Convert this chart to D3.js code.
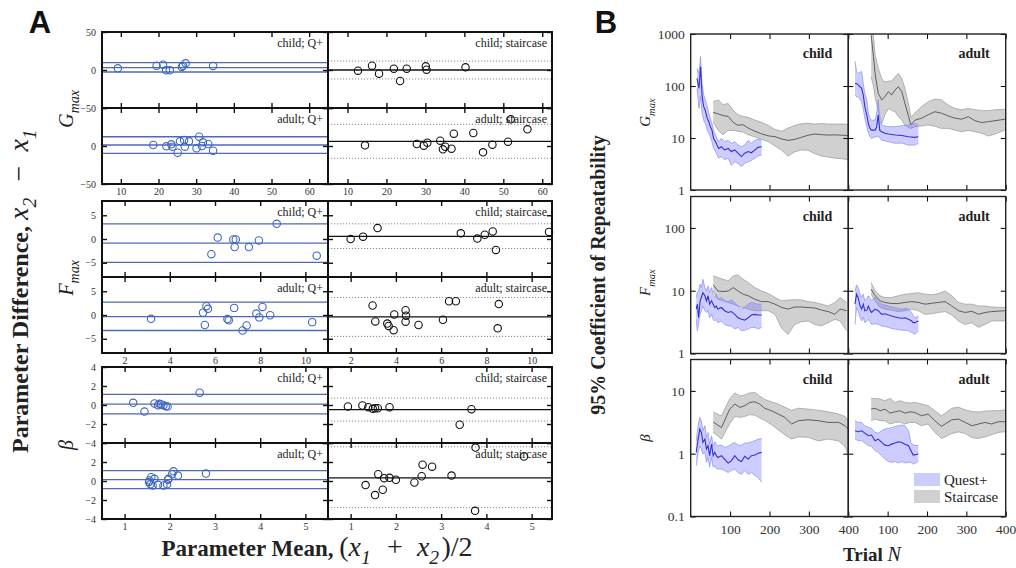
<!DOCTYPE html>
<html lang="en">
<head>
<meta charset="UTF-8">
<title>Repeatability</title>
<script src="https://d3js.org/d3.v7.min.js"></script>
<style>
  body { margin: 0; background: #fff; }
  svg text { font-family: "Liberation Serif", "DejaVu Serif", serif; }
</style>
</head>
<body>
<div id="chart"></div>
<script>
    // ---------- panel A: Bland-Altman points [mean, difference] ----------
    let gChildQ = [[9.2, 2.2], [19.5, 5.7], [21.2, 7], [22, -0.4], [23, -0.4], [26.2, 4], [26.5, 5.5], [27.2, 8.8], [34.5, 5.3]];
    let gAdultQ = [[18.6, 1.3], [22.1, -0.4], [23.4, 2.2], [23.7, -0.9], [25.1, -8.8], [25.7, 6.1], [26.8, 7.9], [27, -0.9], [28.1, 6.1], [30.1, -3], [30.8, 12.3], [31.5, 0], [31.8, 4.8], [33.2, 2.6], [34.5, -6.1]];
    let gChildS = [[12.7, -0.9], [16.3, 5.7], [18.1, -4.8], [21.9, 1.8], [23.5, -14.5], [25.2, 1.8], [30.1, 4.8], [30.3, 0.4], [40.3, 3.5]];
    let gAdultS = [[14.5, 0.9], [27.8, 2.6], [29.6, 0.4], [30.5, 4.4], [33.8, 7], [34.5, -4.4], [35.1, -0.9], [36.7, -3.5], [37.3, 16.2], [42.3, 17.1], [44.8, -8.3], [47.2, 1.8], [51.2, 5.7], [51.9, 35.1], [56.2, 21.9]];
    let fChildQ = [[5.84, -3.2], [6.12, 0.3], [6.81, -0.1], [6.92, -0.1], [6.87, -1.7], [7.5, -1.7], [7.94, -0.3], [8.73, 3.2], [10.5, -3.5]];
    let fAdultQ = [[3.17, -0.8], [5.47, 0.5], [5.62, 1.85], [5.69, 1.3], [5.55, -2.1], [6.55, -0.85], [6.61, -1.1], [6.85, 1.5], [7.22, -3.26], [7.4, -2.2], [7.83, 0.3], [7.96, -0.5], [8.1, 1.7], [8.44, -0.05], [10.3, -1.5]];
    let fChildS = [[2.0, 0], [2.55, 0.5], [3.19, 2.3], [6.87, 1.2], [7.6, 0.1], [7.93, 0.9], [8.28, 1.6], [8.42, -2.3], [10.77, 1.5]];
    let fAdultS = [[2.97, 2.0], [3.09, -1.35], [3.62, -1.8], [3.68, -2.3], [3.9, -3.2], [3.93, 0.1], [4.43, 1.0], [4.45, -0.15], [4.43, -1.4], [5.0, -2.1], [6.08, -1.0], [6.35, 2.9], [6.65, 2.9], [8.55, 2.3], [8.5, -2.8]];
    let bChildQ = [[1.19, 0.23], [1.44, -0.69], [1.66, 0.16], [1.74, -0.02], [1.77, 0.12], [1.81, 0.05], [1.86, -0.02], [1.91, -0.13], [1.95, -0.16], [2.66, 1.3]];
    let bAdultQ = [[1.54, -0.1], [1.55, 0.05], [1.59, 0.4], [1.57, -0.35], [1.62, -0.47], [1.66, 0.23], [1.74, -0.4], [1.86, -0.47], [1.94, -0.35], [1.96, 0.13], [1.97, 0.23], [2.05, 0.71], [2.08, 1.02], [2.18, 0.57], [2.8, 0.78]];
    let bChildS = [[0.94, -0.16], [1.26, -0.05], [1.39, -0.23], [1.49, -0.4], [1.54, -0.34], [1.6, -0.34], [1.86, -0.23], [3.67, -0.44], [3.41, -2.08]];
    let bAdultS = [[1.33, -0.43], [1.54, -1.48], [1.71, -0.92], [1.61, 0.71], [1.74, 0.3], [1.86, 0.33], [2.0, 0.13], [2.41, -0.16], [2.57, 0.5], [2.59, 1.72], [2.8, 1.51], [3.23, 0.57], [3.76, 3.52], [3.75, -3.14], [4.83, 2.58]];

    // bias and limits of agreement: [mean, lower, upper]
    let gChildQLim = [3.0, -2.6, 9.6], gAdultQLim = [1.3, -9.6, 12.2];
    let gChildSLim = [0, -11.8, 11.8], gAdultSLim = [6.1, -16.2, 28.5];
    let fChildQLim = [-0.85, -4.9, 3.2], fAdultQLim = [-0.35, -3.26, 2.7];
    let fChildSLim = [0.57, -2.0, 3.2], fAdultSLim = [-0.4, -4.5, 3.7];
    let bChildQLim = [0.09, -0.94, 1.12], bAdultQLim = [0.15, -0.8, 1.1];
    let bChildSLim = [-0.48, -1.69, 0.73], bAdultSLim = [0.33, -2.8, 3.6];

    let gTicks = [10, 20, 30, 40, 50, 60], fTicks = [2, 4, 6, 8, 10], bTicks = [1, 2, 3, 4, 5];

    // ---------- panel B: repeatability vs trial ----------
    let gcqT = [16, 21, 25, 29, 33, 37, 42, 46, 50, 54, 58, 63, 67, 71, 78, 86, 95, 103, 112, 120, 129, 137, 146, 154, 163, 171, 180];
    let gcqM = [140, 90, 235, 62, 40, 34, 24, 20.6, 16.5, 14.2, 9.8, 8.5, 7.3, 6.3, 6.8, 5.9, 6.3, 5.5, 5.9, 5.1, 4.4, 5.1, 5.5, 5.2, 5.9, 6.6, 6.8];
    let gcqH = [219, 175, 368, 112, 67, 54, 40, 30, 24, 19, 14, 11.4, 9.8, 8.5, 9.8, 8.5, 9.1, 7.9, 8.5, 7.3, 6.8, 7.3, 9.1, 7.9, 9.1, 9.4, 9.1];
    let gcqL = [90, 37, 62, 30, 22, 19, 14, 12.3, 10.6, 8.5, 6.3, 5.5, 4.7, 4.1, 4.4, 3.8, 4.1, 3.0, 3.5, 3.25, 2.8, 3.25, 3.5, 3.7, 4.1, 4.5, 4.7];

    let gcsT = [57, 70, 82, 95, 108, 120, 133, 146, 163, 180, 197, 214, 231, 247, 264, 281, 298, 315, 332, 349, 366, 383, 400];
    let gcsM = [31, 29, 27, 26, 20, 17.5, 18, 15.5, 13.5, 12, 11, 10.6, 9.6, 9.0, 9.4, 10.3, 11.3, 11.9, 11.6, 11.4, 11.5, 11.3, 11.2];
    let gcsH = [50, 54, 44, 46, 34, 28, 26, 25, 22, 20, 17.5, 14.5, 13.5, 15.5, 17.5, 18.8, 19.2, 18.5, 19, 18.5, 18.5, 18.6, 18.3];
    let gcsL = [20, 14, 11.5, 14, 14, 13.5, 13, 11.5, 10.5, 9.5, 8.5, 7.0, 5.8, 4.5, 5.4, 5.9, 5.8, 5.0, 4.5, 4.3, 4.1, 4.0, 3.8];

    let gaqT = [17, 21, 25, 34, 38, 42, 47, 51, 55, 59, 68, 72, 76, 80, 85, 93, 102, 119, 136, 153, 169, 178];
    let gaqM = [112, 112, 105, 90, 67, 40, 28, 19, 15.3, 14.2, 14.2, 16, 28, 14, 13.2, 12.3, 11.9, 11.4, 11.2, 10.6, 10.3, 10.6];
    let gaqH = [300, 190, 175, 190, 112, 72, 54, 30, 24, 22, 22, 30, 54, 22, 17.8, 17, 16.5, 16.5, 17.2, 17.8, 19, 18];
    let gaqL = [67, 62, 62, 50, 37, 24, 16.5, 12.3, 10.6, 9.8, 10.6, 10.5, 11, 10, 9.1, 8.8, 8.5, 7.9, 8.0, 7.3, 7.3, 7.9];

    let gasT = [58, 64, 68, 76, 85, 93, 102, 110, 119, 127, 136, 144, 153, 159, 169, 186, 203, 220, 237, 254, 271, 288, 305, 322, 339, 356, 373, 398];
    let gasM = [950, 368, 175, 72, 54, 62, 78, 67, 84, 97, 78, 46, 26, 17.8, 22, 24, 28, 32, 30, 26.5, 24, 23, 25.7, 21.5, 19.8, 20.6, 21.5, 23];
    let gasH = [2000, 900, 400, 220, 140, 120, 124, 125, 150, 175, 140, 90, 45, 25, 30, 40, 50, 56, 54, 43, 37, 35, 37, 35, 33.6, 33.6, 35, 35.5];
    let gasL = [150, 100, 62, 34, 19, 28, 37, 34, 32, 26, 22, 17.8, 16, 15.3, 16.5, 17, 17.8, 16.8, 15.3, 15.3, 14.2, 13.2, 14, 13.2, 12.3, 10.9, 11.9, 14.2];

    let fcqT = [14, 17, 20, 24, 27, 31, 36, 40, 44, 48, 53, 57, 61, 65, 69, 78, 86, 95, 103, 112, 120, 129, 137, 146, 154, 163, 171, 180];
    let fcqM = [5.1, 6.1, 3.7, 6.9, 7.8, 9.3, 8.3, 6.9, 8.3, 6.1, 6.9, 6.1, 5.4, 5.7, 5.1, 5.4, 4.8, 4.5, 4.65, 4.2, 3.7, 3.5, 3.4, 3.7, 4.1, 4.2, 4.1, 4.1];
    let fcqH = [7.8, 9.5, 10, 12.7, 11.2, 15.2, 11.2, 9.9, 11.9, 9.3, 11.2, 8.8, 7.8, 8.8, 7.3, 7.8, 6.9, 6.7, 7.1, 6.5, 5.7, 5.1, 5.5, 6.1, 6.5, 6.3, 6.1, 6.1];
    let fcqL = [3.5, 2.3, 3.1, 4.2, 4.8, 5.7, 4.8, 4.5, 4.8, 3.7, 4.2, 3.5, 3.3, 3.5, 3.1, 3.3, 2.9, 2.75, 2.75, 2.45, 2.6, 2.3, 2.35, 2.45, 2.6, 2.6, 2.45, 2.6];

    let fcsT = [57, 69, 82, 95, 108, 120, 133, 146, 163, 180, 197, 214, 231, 247, 264, 281, 298, 315, 332, 349, 366, 379, 396];
    let fcsM = [12.4, 9.9, 9.7, 9.9, 11.2, 9.9, 8.8, 8.3, 7.3, 6.7, 6.7, 6.1, 5.4, 5.1, 5.5, 5.5, 5.4, 5.3, 4.9, 4.65, 4.2, 5.1, 4.8];
    let fcsH = [17.2, 16.2, 15.2, 14.3, 17.2, 17.8, 15.2, 13.5, 11.2, 9.9, 9.0, 7.8, 6.9, 7.1, 7.2, 7.1, 6.7, 6.5, 6.1, 5.7, 6.5, 7.8, 6.5];
    let fcsL = [9.9, 7.3, 6.9, 6.5, 6.1, 5.7, 5.4, 5.1, 4.8, 4.8, 4.8, 4.2, 2.5, 2.0, 2.9, 3.2, 3.3, 2.9, 2.75, 3.1, 3.5, 3.3, 2.3];

    let faqT = [17, 21, 25, 30, 34, 38, 42, 47, 51, 55, 59, 68, 76, 85, 93, 102, 110, 119, 127, 136, 144, 153, 161, 165, 169, 178];
    let faqM = [6.1, 8.8, 7.8, 5.7, 5.1, 6.1, 4.8, 4.9, 5.7, 4.9, 4.5, 5.1, 4.8, 4.2, 4.3, 4.1, 3.95, 3.8, 3.7, 3.65, 3.7, 3.5, 3.3, 3.1, 3.1, 3.3];
    let faqH = [9.9, 12.4, 11.2, 8.8, 7.8, 8.8, 6.9, 7.5, 8.3, 7.5, 7.1, 7.8, 6.9, 6.1, 5.9, 5.7, 5.5, 5.4, 5.2, 5.1, 5.3, 5.1, 4.5, 4.0, 3.7, 3.95];
    let faqL = [2.9, 5.4, 4.8, 3.7, 3.3, 3.8, 3.1, 3.3, 3.5, 3.2, 2.9, 3.0, 2.9, 2.75, 2.7, 2.6, 2.5, 2.45, 2.4, 2.35, 2.35, 2.3, 2.15, 2.1, 2.0, 2.3];

    let fasT = [58, 68, 81, 93, 110, 127, 144, 161, 178, 195, 212, 229, 246, 263, 280, 297, 314, 331, 347, 364, 398];
    let fasM = [10.6, 8.3, 6.9, 6.5, 6.25, 6.25, 6.5, 6.7, 6.5, 6.1, 6.3, 6.5, 6.7, 5.7, 4.8, 4.5, 4.7, 4.2, 4.5, 4.65, 4.8];
    let fasH = [13.5, 9.9, 8.3, 7.8, 7.8, 8.3, 8.8, 9.0, 9.3, 8.8, 8.6, 9.0, 9.9, 8.3, 6.5, 6.1, 6.1, 5.7, 5.7, 5.5, 5.4];
    let fasL = [8.8, 6.9, 5.4, 5.1, 4.9, 4.65, 4.8, 5.1, 4.8, 4.2, 4.3, 4.5, 4.65, 4.1, 3.3, 2.9, 3.1, 2.6, 2.9, 3.3, 3.3];

    let bcqT = [14, 19, 23, 27, 31, 36, 40, 44, 48, 53, 57, 61, 65, 69, 78, 86, 95, 103, 112, 120, 129, 137, 146, 154, 163, 171, 180];
    let bcqM = [1.05, 1.71, 2.47, 2.18, 1.51, 1.71, 1.19, 1.34, 0.93, 1.42, 0.93, 1.05, 0.93, 0.87, 0.93, 0.82, 0.71, 0.77, 0.93, 0.8, 0.75, 0.91, 0.82, 0.93, 0.95, 1.02, 1.05];
    let bcqH = [1.61, 2.79, 3.78, 3.35, 2.32, 2.79, 1.82, 2.18, 1.42, 1.93, 1.34, 1.55, 1.42, 1.34, 1.37, 1.26, 1.31, 1.42, 1.51, 1.37, 1.37, 1.48, 1.48, 1.55, 1.61, 1.71, 1.75];
    let bcqL = [0.64, 1.05, 1.34, 1.19, 0.99, 1.05, 0.73, 0.87, 0.61, 0.87, 0.61, 0.64, 0.58, 0.57, 0.57, 0.54, 0.5, 0.54, 0.57, 0.5, 0.47, 0.54, 0.47, 0.5, 0.45, 0.42, 0.35];

    let bcsT = [57, 78, 99, 112, 125, 137, 150, 163, 175, 188, 205, 222, 239, 256, 273, 298, 324, 349, 375, 392, 400];
    let bcsM = [3.2, 2.6, 5.13, 6.17, 5.46, 5.8, 6.55, 6.7, 6.17, 5.27, 4.83, 4.28, 3.78, 2.97, 3.35, 3.47, 3.35, 3.15, 3.15, 2.79, 2.47];
    let bcsH = [4.6, 4.0, 7.5, 9.3, 8.3, 8.6, 9.3, 9.4, 8.3, 7.3, 6.7, 6.2, 5.5, 4.9, 5.3, 5.13, 4.9, 4.65, 4.3, 3.9, 3.35];
    let bcsL = [2.2, 1.71, 3.0, 3.9, 3.8, 3.9, 4.2, 4.1, 3.7, 3.4, 2.9, 2.4, 2.0, 1.71, 1.85, 1.82, 1.6, 1.71, 1.6, 1.3, 0.93];

    let baqT = [17, 25, 34, 42, 51, 59, 68, 76, 85, 93, 102, 110, 119, 127, 136, 144, 153, 159, 165, 178];
    let baqM = [2.32, 2.24, 2.32, 2.13, 1.93, 1.98, 1.61, 1.71, 1.51, 1.37, 1.34, 1.42, 1.48, 1.55, 1.51, 1.42, 1.34, 1.12, 0.95, 0.99];
    let baqH = [3.35, 3.15, 3.15, 2.79, 2.62, 2.53, 2.18, 2.13, 2.32, 2.47, 2.53, 2.6, 2.72, 2.79, 2.86, 2.79, 2.32, 1.51, 1.37, 1.34];
    let baqL = [1.71, 1.61, 1.61, 1.48, 1.34, 1.31, 1.12, 1.05, 0.93, 0.82, 0.75, 0.73, 0.75, 0.71, 0.75, 0.71, 0.73, 0.73, 0.68, 0.75];

    let basT = [58, 68, 81, 93, 106, 119, 131, 144, 157, 169, 186, 203, 220, 237, 246, 263, 280, 297, 314, 331, 347, 364, 381, 398];
    let basM = [5.13, 5.27, 4.83, 5.13, 4.43, 4.65, 4.83, 4.43, 4.65, 4.54, 4.02, 4.28, 3.35, 2.72, 2.97, 3.47, 3.56, 3.15, 2.79, 2.97, 3.15, 2.97, 3.23, 3.23];
    let basH = [7.6, 7.6, 7.4, 6.97, 7.6, 6.55, 6.97, 6.55, 6.4, 6.55, 6.2, 5.8, 4.83, 4.02, 4.4, 5.3, 5.5, 5.0, 4.7, 4.6, 4.75, 4.83, 4.83, 5.0];
    let basL = [3.35, 3.56, 3.35, 3.35, 2.97, 3.15, 3.2, 2.97, 3.15, 3.15, 2.79, 2.97, 2.18, 1.75, 1.85, 2.1, 2.22, 2.1, 1.8, 1.75, 1.85, 2.0, 2.18, 2.24];

    let trialTicks = [100, 200, 300, 400];

    // ---------- drawing ----------
    let svg = d3.select('#chart').append('svg')
        .attr('width', 1016).attr('height', 568)
        .style('background', '#fff');

    let qBlue = '#3f66c0', qLine = '#5268b4';
    let bandBlue = 'rgba(115,115,255,0.36)', bandBlueEdge = '#8c8cf2', meanBlue = '#3030d8';
    let bandGray = 'rgba(190,190,190,0.72)', bandGrayEdge = '#9a9a9a', meanGray = '#5e5e5e';

    function styleAxis(g, size, color) {
        g.select('.domain').remove();
        g.selectAll('.tick line').attr('stroke', '#111').attr('stroke-width', 1.4);
        g.selectAll('.tick text')
            .attr('font-family', '"Liberation Serif", "DejaVu Serif", serif')
            .attr('font-size', size).attr('fill', color);
    }

    function fmt(d) { return d3.format('~g')(d).replace('-', '\u2212'); }

    // one Bland-Altman cell
    function baCell(o) {
        let x = d3.scaleLinear().domain(o.xd).range([o.x0, o.x1]);
        let y = d3.scaleLinear().domain(o.yd).range([o.y1, o.y0]);
        let g = svg.append('g');
        let q = o.kind === 'q';

        o.lim.forEach(function (v, i) {
            g.append('line')
                .attr('x1', o.x0).attr('x2', o.x1)
                .attr('y1', y(v)).attr('y2', y(v))
                .attr('stroke', q ? qLine : (i === 0 ? '#111' : '#8a8a8a'))
                .attr('stroke-width', q ? 1.3 : (i === 0 ? 1.3 : 1))
                .attr('stroke-dasharray', (!q && i > 0) ? '1.2,1.8' : null);
        });

        g.selectAll('circle').data(o.pts).enter().append('circle')
            .attr('cx', d => x(d[0])).attr('cy', d => y(d[1])).attr('r', 3.7)
            .attr('fill', 'none').attr('stroke', q ? qBlue : '#111').attr('stroke-width', 1.1);

        g.append('text').attr('x', o.x1 - 5).attr('y', o.y0 + 15)
            .attr('text-anchor', 'end').attr('font-size', 12).attr('fill', '#222')
            .text(o.label);

        let tk = 5;
        let ax = g.append('g').attr('transform', 'translate(0,' + o.y1 + ')')
            .call(d3.axisBottom(x).tickValues(o.xt).tickSize(-tk).tickPadding(4)
                .tickFormat(o.xlab ? fmt : ''));
        styleAxis(ax, 10, '#333');
        let at = g.append('g').attr('transform', 'translate(0,' + o.y0 + ')')
            .call(d3.axisTop(x).tickValues(o.xt).tickSize(-tk).tickFormat(''));
        styleAxis(at, 10, '#333');
        let al = g.append('g').attr('transform', 'translate(' + o.x0 + ',0)')
            .call(d3.axisLeft(y).tickValues(o.yt).tickSize(-tk).tickPadding(6)
                .tickFormat(o.ylab ? fmt : ''));
        styleAxis(al, 10, '#333');
        al.selectAll('.tick').filter(d => o.ylab && o.skipTop && d === o.yd[1]).select('text').remove();
        let ar = g.append('g').attr('transform', 'translate(' + o.x1 + ',0)')
            .call(d3.axisRight(y).tickValues(o.yt).tickSize(-tk).tickFormat(''));
        styleAxis(ar, 10, '#333');
        // empty labels left by tickFormat('') are dropped
        g.selectAll('.tick text').filter(function () { return this.textContent === ''; }).remove();

        g.append('rect').attr('x', o.x0).attr('y', o.y0)
            .attr('width', o.x1 - o.x0).attr('height', o.y1 - o.y0)
            .attr('fill', 'none').attr('stroke', '#111').attr('stroke-width', 2);
    }

    let aCols = [[102, 328], [328, 552]];
    let aRows = [
        {tops: [32, 108], xd: [[5, 65], [5, 62.5]], yd: [-50, 50], xt: gTicks, yt: [-50, 0, 50],
            cells: [[[gChildQ, gChildQLim], [gChildS, gChildSLim]], [[gAdultQ, gAdultQLim], [gAdultS, gAdultSLim]]]},
        {tops: [201, 277], xd: [[1, 11], [1, 10.9]], yd: [-8, 8], xt: fTicks, yt: [-5, 0, 5],
            cells: [[[fChildQ, fChildQLim], [fChildS, fChildSLim]], [[fAdultQ, fAdultQLim], [fAdultS, fAdultSLim]]]},
        {tops: [367, 443], xd: [[0.5, 5.5], [0.5, 5.45]], yd: [-4, 4], xt: bTicks, yt: [-4, -2, 0, 2, 4],
            cells: [[[bChildQ, bChildQLim], [bChildS, bChildSLim]], [[bAdultQ, bAdultQLim], [bAdultS, bAdultSLim]]]}
    ];
    let aLabels = [['child; Q+', 'child; staircase'], ['adult; Q+', 'adult; staircase']];

    aRows.forEach(function (r) {
        r.tops.forEach(function (top, s) {
            aCols.forEach(function (c, k) {
                baCell({
                    x0: c[0], x1: c[1], y0: top, y1: top + 76,
                    xd: r.xd[k], yd: r.yd, xt: r.xt, yt: r.yt,
                    pts: r.cells[s][k][0], lim: r.cells[s][k][1],
                    kind: k === 0 ? 'q' : 's', label: aLabels[s][k],
                    xlab: s === 1, ylab: k === 0, skipTop: s === 1
                });
            });
        });
    });

    // ---------- panel B cells ----------
    function repCell(o) {
        let x = d3.scaleLinear().domain([0, 400]).range([o.x0, o.x1]);
        let y = d3.scaleLog().domain(o.yd).range([o.y1, o.y0]);
        let g = svg.append('g');
        let id = 'clip' + Math.round(o.x0) + '_' + Math.round(o.y0);
        svg.append('clipPath').attr('id', id).append('rect')
            .attr('x', o.x0).attr('y', o.y0).attr('width', o.x1 - o.x0).attr('height', o.y1 - o.y0);
        let plot = g.append('g').attr('clip-path', 'url(#' + id + ')');

        o.series.forEach(function (s) {
            let rows = s.t.map((t, i) => ({t: t, m: s.m[i], lo: s.lo[i], hi: s.hi[i]}));
            let q = s.kind === 'q';
            plot.append('path').datum(rows)
                .attr('d', d3.area().x(d => x(d.t)).y0(d => y(d.lo)).y1(d => y(d.hi)))
                .attr('fill', q ? bandBlue : bandGray);
            ['lo', 'hi'].forEach(function (key) {
                plot.append('path').datum(rows)
                    .attr('d', d3.line().x(d => x(d.t)).y(d => y(d[key])))
                    .attr('fill', 'none').attr('stroke', q ? bandBlueEdge : bandGrayEdge).attr('stroke-width', 0.7);
            });
            plot.append('path').datum(rows)
                .attr('d', d3.line().x(d => x(d.t)).y(d => y(d.m)))
                .attr('fill', 'none').attr('stroke', q ? meanBlue : meanGray).attr('stroke-width', q ? 1.1 : 1);
        });

        g.append('text').attr('x', o.x1 - 16).attr('y', o.y0 + 24)
            .attr('text-anchor', 'end').attr('font-size', 14).attr('font-weight', 'bold').attr('fill', '#222')
            .text(o.label);

        let tk = 5;
        let ax = g.append('g').attr('transform', 'translate(0,' + o.y1 + ')')
            .call(d3.axisBottom(x).tickValues(trialTicks).tickSize(-tk).tickPadding(8)
                .tickFormat(o.xlab ? fmt : ''));
        styleAxis(ax, 13.5, '#333');
        let at = g.append('g').attr('transform', 'translate(0,' + o.y0 + ')')
            .call(d3.axisTop(x).tickValues(trialTicks).tickSize(-tk).tickFormat(''));
        styleAxis(at, 13, '#333');
        let al = g.append('g').attr('transform', 'translate(' + o.x0 + ',0)')
            .call(d3.axisLeft(y).tickValues(o.yt).tickSize(-tk).tickPadding(6)
                .tickFormat(o.ylab ? fmt : ''));
        styleAxis(al, 13.5, '#333');
        let ar = g.append('g').attr('transform', 'translate(' + o.x1 + ',0)')
            .call(d3.axisRight(y).tickValues(o.yt).tickSize(-tk).tickFormat(''));
        styleAxis(ar, 13, '#333');
        g.selectAll('.tick line').attr('stroke-width', 1.1);
        g.selectAll('.tick text').filter(function () { return this.textContent === ''; }).remove();

        g.append('rect').attr('x', o.x0).attr('y', o.y0)
            .attr('width', o.x1 - o.x0).attr('height', o.y1 - o.y0)
            .attr('fill', 'none').attr('stroke', '#222').attr('stroke-width', 1.4);
    }

    let bCols = [[690.7, 848.3], [848.3, 1005.7]];
    let bRows = [
        {y0: 34, y1: 190, yd: [1, 1000], yt: [1, 10, 100, 1000],
            cols: [[{kind: 's', t: gcsT, m: gcsM, lo: gcsL, hi: gcsH}, {kind: 'q', t: gcqT, m: gcqM, lo: gcqL, hi: gcqH}],
                [{kind: 's', t: gasT, m: gasM, lo: gasL, hi: gasH}, {kind: 'q', t: gaqT, m: gaqM, lo: gaqL, hi: gaqH}]]},
        {y0: 196.5, y1: 353.5, yd: [1, 316.2], yt: [1, 10, 100],
            cols: [[{kind: 's', t: fcsT, m: fcsM, lo: fcsL, hi: fcsH}, {kind: 'q', t: fcqT, m: fcqM, lo: fcqL, hi: fcqH}],
                [{kind: 's', t: fasT, m: fasM, lo: fasL, hi: fasH}, {kind: 'q', t: faqT, m: faqM, lo: faqL, hi: faqH}]]},
        {y0: 359.5, y1: 516.5, yd: [0.1, 31.62], yt: [0.1, 1, 10],
            cols: [[{kind: 's', t: bcsT, m: bcsM, lo: bcsL, hi: bcsH}, {kind: 'q', t: bcqT, m: bcqM, lo: bcqL, hi: bcqH}],
                [{kind: 's', t: basT, m: basM, lo: basL, hi: basH}, {kind: 'q', t: baqT, m: baqM, lo: baqL, hi: baqH}]]}
    ];

    bRows.forEach(function (r, ri) {
        bCols.forEach(function (c, k) {
            repCell({
                x0: c[0], x1: c[1], y0: r.y0, y1: r.y1, yd: r.yd, yt: r.yt,
                series: r.cols[k], label: k === 0 ? 'child' : 'adult',
                xlab: ri === 2, ylab: k === 0
            });
        });
    });

    // legend
    let leg = svg.append('g');
    [['Quest+', bandBlue, 473], ['Staircase', bandGray, 490]].forEach(function (d) {
        leg.append('rect').attr('x', 914).attr('y', d[2]).attr('width', 26).attr('height', 13).attr('fill', d[1]);
        leg.append('text').attr('x', 944).attr('y', d[2] + 11.5).attr('font-size', 15).attr('fill', '#222').text(d[0]);
    });

    // ---------- titles and labels ----------
    // italic math symbol with a subscript; the hair space brings the baseline back
    function sub(t, s, size) {
        let d = size * 0.3;
        t.append('tspan').attr('font-style', 'italic').attr('font-weight', 'normal').attr('font-size', size).text(s[0]);
        t.append('tspan').attr('font-style', 'italic').attr('font-weight', 'normal')
            .attr('font-size', size * 0.7).attr('dy', d).text(s[1]);
        t.append('tspan').attr('dy', -d).attr('font-size', size).text('\u200A');
    }

    function rowLabel(x, y, size, name) {
        let t = svg.append('text').attr('transform', 'translate(' + x + ',' + y + ') rotate(-90)')
            .attr('text-anchor', 'middle').attr('font-size', size).attr('fill', '#222');
        if (name === 'b') t.append('tspan').attr('font-style', 'italic').text('\u03B2');
        else sub(t, [name, 'max'], size);
    }
    rowLabel(73, 108, 20, 'G');
    rowLabel(73, 277, 20, 'F');
    rowLabel(73, 445, 20, 'b');
    rowLabel(650, 112, 15, 'G');
    rowLabel(650, 282, 15, 'F');
    rowLabel(650, 438, 15, 'b');

    let m = 28;
    let yt = svg.append('text').attr('transform', 'translate(28,290) rotate(-90)')
        .attr('text-anchor', 'middle').attr('font-size', 24).attr('font-weight', 'bold').attr('fill', '#222');
    yt.append('tspan').text('Parameter Difference, ');
    sub(yt, ['x', '2'], m);
    yt.append('tspan').attr('font-weight', 'normal').attr('font-size', m).text('\u2002\u2212\u2002');
    sub(yt, ['x', '1'], m);

    let xt = svg.append('text').attr('x', 317).attr('y', 556)
        .attr('text-anchor', 'middle').attr('font-size', 23).attr('font-weight', 'bold').attr('fill', '#222');
    xt.append('tspan').text('Parameter Mean, ');
    xt.append('tspan').attr('font-weight', 'normal').attr('font-size', m).text('(');
    sub(xt, ['x', '1'], m);
    xt.append('tspan').attr('font-weight', 'normal').attr('font-size', m).text('\u2002+\u2002');
    sub(xt, ['x', '2'], m);
    xt.append('tspan').attr('font-weight', 'normal').attr('font-size', m).text(')/2');

    svg.append('text').attr('transform', 'translate(605,275) rotate(-90)')
        .attr('text-anchor', 'middle').attr('font-size', 20).attr('font-weight', 'bold').attr('fill', '#222')
        .text('95% Coefficient of Repeatability');

    let tn = svg.append('text').attr('x', 872).attr('y', 561)
        .attr('text-anchor', 'middle').attr('font-size', 19).attr('font-weight', 'bold').attr('fill', '#222');
    tn.append('tspan').text('Trial ');
    tn.append('tspan').attr('font-style', 'italic').attr('font-weight', 'normal').attr('font-size', 20).text('N');

    svg.append('text').attr('x', 40).attr('y', 33).attr('text-anchor', 'middle')
        .style('font-family', '"Liberation Sans", Arial, sans-serif')
        .attr('font-size', 31).attr('font-weight', 'bold').attr('fill', '#111').text('A');
    svg.append('text').attr('x', 606).attr('y', 33).attr('text-anchor', 'middle')
        .style('font-family', '"Liberation Sans", Arial, sans-serif')
        .attr('font-size', 31).attr('font-weight', 'bold').attr('fill', '#111').text('B');
</script>
</body>
</html>
